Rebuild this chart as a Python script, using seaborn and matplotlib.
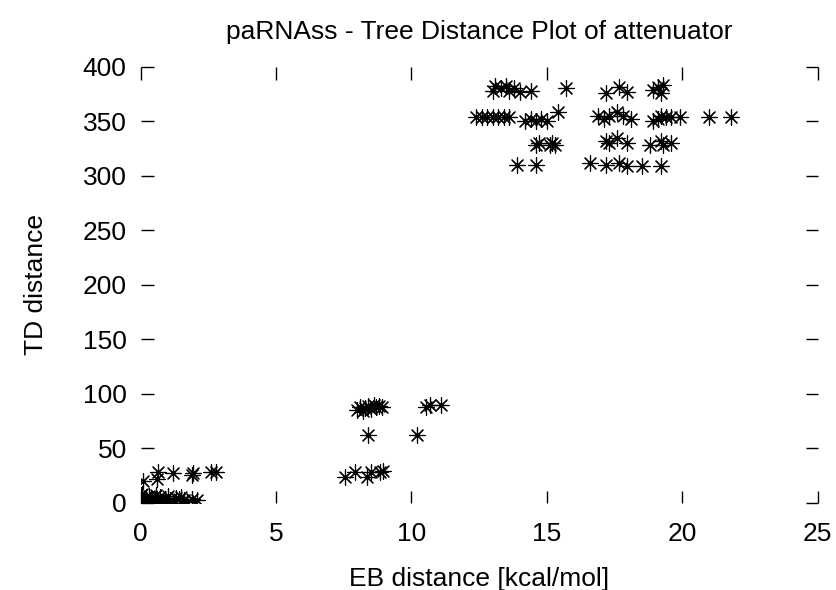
import matplotlib
matplotlib.use("Agg")
import matplotlib.pyplot as plt
import seaborn as sns
import pandas as pd

# EB distance [kcal/mol] and TD distance for each point
eb = [
    # cluster near origin
    0.0, 0.0, 0.0, 0.0, 0.05, 0.1, 0.15, 0.2, 0.25, 0.3, 0.35, 0.4, 0.5, 0.55,
    0.6, 0.7, 0.8, 0.9, 1.0, 1.1, 1.2, 1.3, 1.4, 1.5, 1.6, 1.7, 1.9, 2.1,
    0.1, 0.6, 0.65, 1.2, 1.9, 1.95, 2.6, 2.8,
    # middle cluster
    7.55, 7.9, 8.35, 8.5, 8.85, 8.95,
    8.4, 10.2,
    8.0, 8.1, 8.2, 8.3, 8.4, 8.5, 8.6, 8.7, 8.8, 8.9, 10.55, 10.7, 11.1,
    # top cluster, row ~380
    13.0, 13.1, 13.3, 13.5, 13.6, 13.8, 14.0, 14.4, 15.7,
    17.2, 17.65, 17.95, 18.9, 19.1, 19.2, 19.3,
    # row ~355
    12.4, 12.6, 12.8, 13.0, 13.2, 13.4, 13.6,
    14.2, 14.4, 14.6, 14.8, 15.0, 15.4,
    16.9, 17.1, 17.3, 17.6, 17.8, 18.1,
    18.9, 19.1, 19.2, 19.4, 19.6, 19.9, 21.0, 21.8,
    # row ~330
    14.6, 14.7, 15.1, 15.2, 15.3,
    17.2, 17.3, 17.6, 17.95, 18.8, 19.2, 19.3, 19.6,
    # row ~310
    13.9, 14.6, 16.6, 17.2, 17.65, 17.95, 18.5, 19.2,
]
td = [
    0, 2, 4, 7, 8, 1, 3, 5, 0, 6, 2, 4, 0, 7,
    3, 5, 1, 3, 6, 2, 0, 4, 3, 5, 2, 1, 3, 2,
    20, 22, 28, 27, 25, 27, 28, 28,
    24, 28, 24, 28, 28, 29,
    62, 62,
    85, 88, 84, 87, 89, 86, 90, 88, 89, 88, 88, 90, 90,
    378, 382, 380, 382, 378, 380, 377, 378, 380,
    376, 381, 377, 379, 381, 376, 383,
    354, 354, 354, 354, 354, 354, 354,
    350, 352, 350, 352, 350, 358,
    355, 352, 355, 358, 355, 352,
    350, 352, 355, 354, 354, 354, 354, 354,
    328, 330, 328, 330, 328,
    332, 330, 335, 330, 328, 332, 328, 330,
    310, 310, 312, 310, 312, 309, 309, 309,
]

x_ticks = [0, 5, 10, 15, 20, 25]
y_ticks = [0, 50, 100, 150, 200, 250, 300, 350, 400]

df = pd.DataFrame({"EB": eb, "TD": td})

sns.set_theme(style="white")
plt.rcParams["font.family"] = ["Liberation Sans", "DejaVu Sans"]
plt.rcParams["text.color"] = "black"
plt.rcParams["axes.labelcolor"] = "black"

fig = plt.figure(figsize=(8.37, 5.90), dpi=100)
ax = fig.add_axes([0.168, 0.148, 0.809, 0.739])

sns.scatterplot(data=df, x="EB", y="TD", ax=ax, marker=(8, 2, 0), s=125,
                color="black", linewidth=0.85, legend=False)

ax.set_xlim(0, 25)
ax.set_ylim(0, 400)
ax.set_xticks(x_ticks)
ax.set_yticks(y_ticks)
for sp in ax.spines.values():
    sp.set_visible(False)
ax.tick_params(axis="both", direction="in", length=9, width=1.0, color="black",
               labelsize=19, labelcolor="black", top=True, right=True,
               bottom=True, left=True)
ax.tick_params(axis="x", pad=14)
ax.tick_params(axis="y", pad=10)

ax.set_title("paRNAss - Tree Distance Plot of attenuator", fontsize=19, pad=20,
             color="black")
ax.set_xlabel("EB distance [kcal/mol]", fontsize=19, labelpad=15, color="black")
ax.set_ylabel("TD distance", fontsize=19, labelpad=25, color="black")

fig.savefig("out.png", dpi=100)
